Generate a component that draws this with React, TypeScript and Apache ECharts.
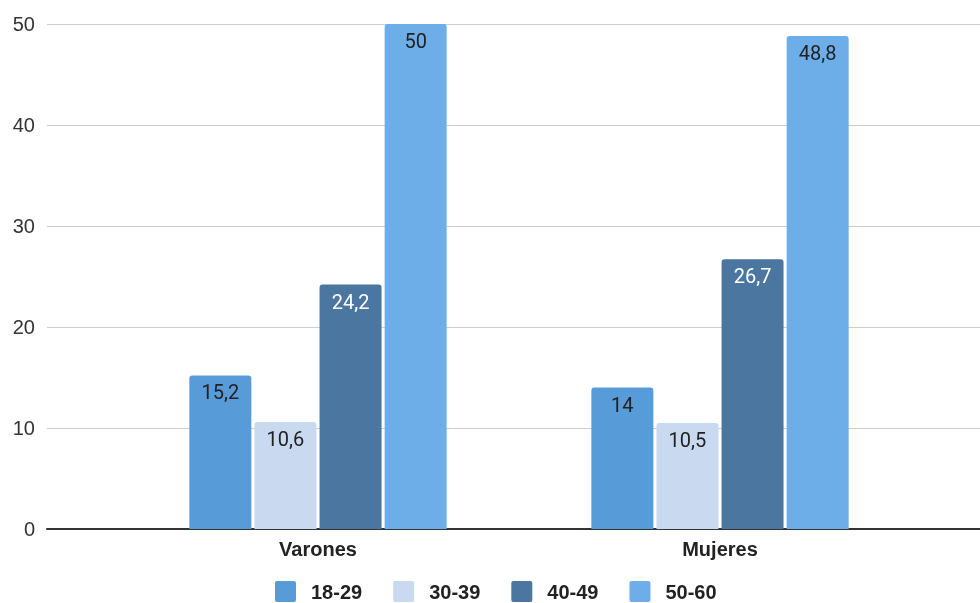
import React, { useEffect, useRef } from "react";
import * as echarts from "echarts";

const categories = ["Varones", "Mujeres"];
const ageGroups = ["18-29", "30-39", "40-49", "50-60"];
const values18to29 = [15.2, 14];
const values30to39 = [10.6, 10.5];
const values40to49 = [24.2, 26.7];
const values50to60 = [50, 48.8];
const yTicks = { min: 0, max: 50, interval: 10 };

const colors = ["#579bd9", "#c9d9ef", "#4a76a0", "#6daee8"];
const labelColors = ["#222222", "#222222", "#ffffff", "#222222"];
const SANS = "'Liberation Sans', Arial, sans-serif";
const VALUE_FONT = "Roboto, 'Liberation Sans', sans-serif";
// square legend swatch with slightly rounded corners
const SWATCH = "path://M2,0H19Q21,0 21,2V19Q21,21 19,21H2Q0,21 0,19V2Q0,0 2,0Z";

export default function App() {
  const ref = useRef<HTMLDivElement>(null);

  useEffect(() => {
    if (!ref.current) return;
    const chart = echarts.init(ref.current, null, { renderer: "svg" });
    const seriesValues = [values18to29, values30to39, values40to49, values50to60];

    const fmt = (v: number) => String(v).replace(".", ",");

    chart.setOption({
      animation: false,
      textStyle: { fontFamily: SANS },
      legend: {
        data: ageGroups,
        top: 581,
        left: 275,
        padding: 0,
        itemWidth: 21,
        itemHeight: 21,
        itemGap: 31,
        icon: SWATCH,
        textStyle: {
          fontFamily: SANS,
          fontSize: 20,
          fontWeight: "bold",
          color: "#222222",
          padding: [0, 0, 0, 10],
        },
      },
      grid: [
        { left: 47, right: 0, top: 24, bottom: 74 },
        { left: 117, right: 59, top: 24, bottom: 74 },
      ],
      xAxis: [
        {
          type: "value",
          gridIndex: 0,
          min: 0,
          max: 1,
          axisLine: { show: true, onZero: true, lineStyle: { color: "#333333", width: 2 } },
          axisTick: { show: false },
          axisLabel: { show: false },
          splitLine: { show: false },
        },
        {
          type: "category",
          gridIndex: 1,
          data: categories,
          axisLine: { show: false },
          axisTick: { show: false },
          axisLabel: {
            fontFamily: SANS,
            fontSize: 20,
            fontWeight: "bold",
            color: "#222222",
            margin: 10,
          },
        },
      ],
      yAxis: [
        {
          type: "value",
          gridIndex: 0,
          min: yTicks.min,
          max: yTicks.max,
          interval: yTicks.interval,
          axisLine: { show: false },
          axisTick: { show: false },
          axisLabel: { fontFamily: SANS, fontSize: 20, color: "#333333", margin: 12 },
          splitLine: { lineStyle: { color: "#cccccc", width: 1 } },
        },
        {
          type: "value",
          gridIndex: 1,
          min: yTicks.min,
          max: yTicks.max,
          interval: yTicks.interval,
          show: false,
          splitLine: { show: false },
        },
      ],
      series: ageGroups.map((name, i) => ({
        name,
        type: "bar",
        xAxisIndex: 1,
        yAxisIndex: 1,
        data: seriesValues[i],
        barWidth: 62,
        barGap: "5%",
        itemStyle: { color: colors[i], borderRadius: [3, 3, 0, 0] },
        label: {
          show: true,
          position: "insideTop",
          distance: 7,
          fontFamily: VALUE_FONT,
          fontSize: 20,
          color: labelColors[i],
          formatter: (p: any) => fmt(p.value),
        },
      })),
    });

    return () => chart.dispose();
  }, []);

  return (
    <div
      ref={ref}
      style={{ position: "fixed", left: 0, top: 0, width: 980, height: 603 }}
    />
  );
}
